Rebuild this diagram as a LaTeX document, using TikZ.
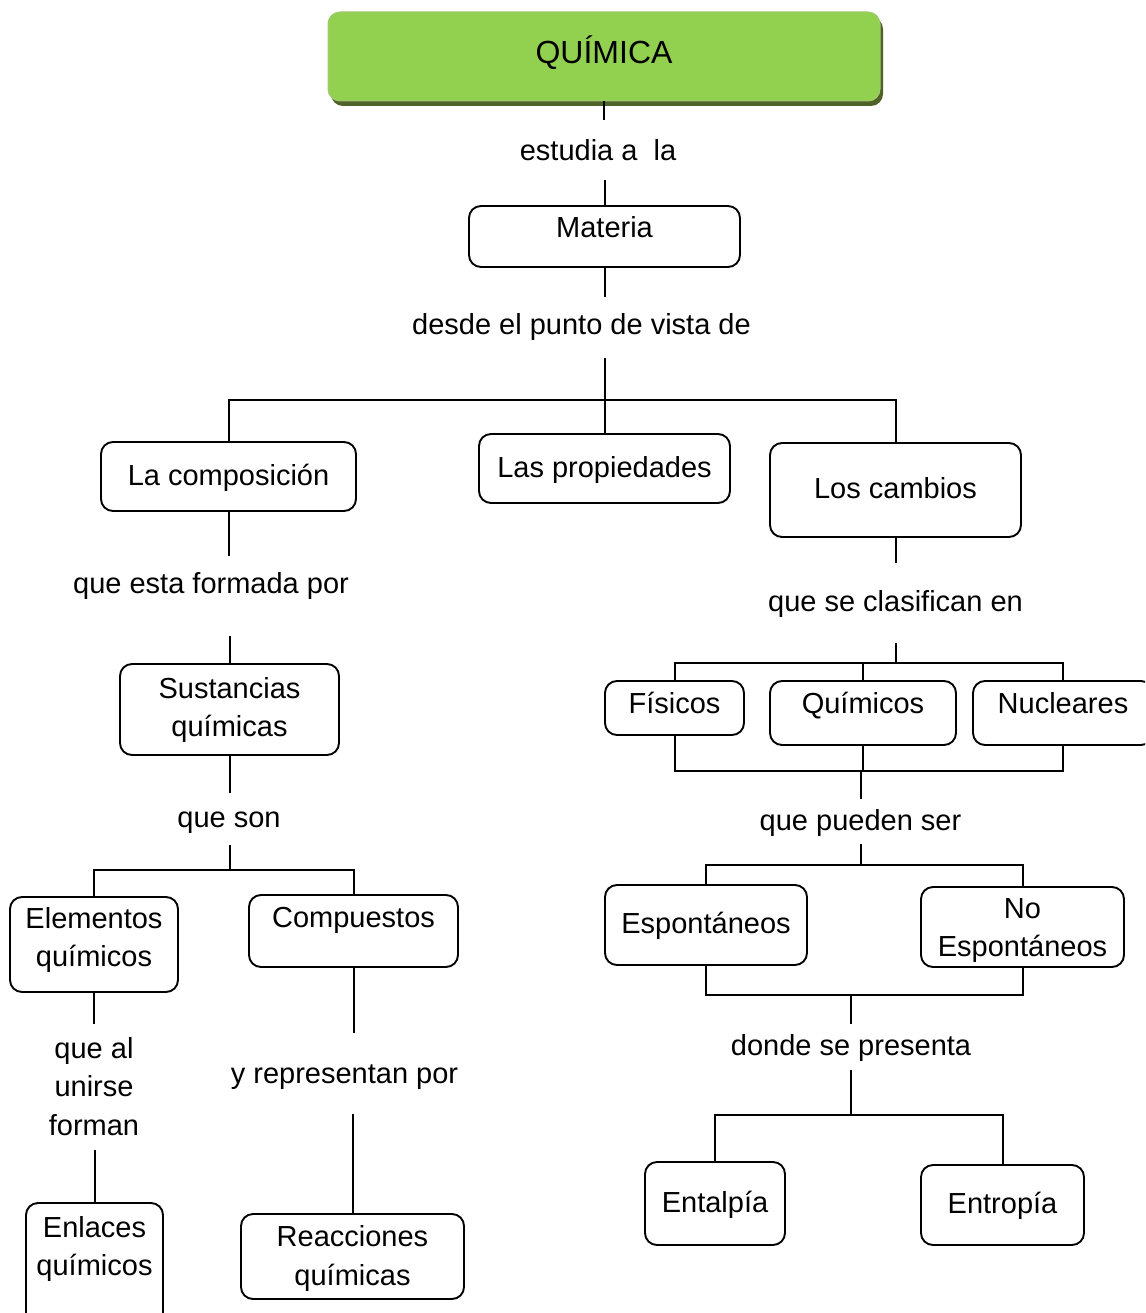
\documentclass[tikz,border=0pt]{standalone}
\usepackage{fontspec}
\setmainfont{Liberation Sans}
\usetikzlibrary{shadows}
\definecolor{titlegreen}{RGB}{146,208,80}
\definecolor{titleedge}{RGB}{164,200,112}
\definecolor{titleshadow}{RGB}{79,98,40}
\newcommand\mapfont{\fontsize{29}{38.5}\selectfont}
\newcommand\twolines[2]{\begin{tabular}[t]{@{}c@{}}#1\\#2\end{tabular}}
\newcommand\threelines[3]{\begin{tabular}[t]{@{}c@{}}#1\\#2\\#3\end{tabular}}
\tikzset{
  concept/.style={draw, line width=1.9pt, rounded corners=12pt, inner xsep=0pt,
    inner ysep=0pt, anchor=base, font=\mapfont},
  linking/.style={inner sep=0pt, anchor=base, font=\mapfont},
  link/.style={line width=2pt},
}
\begin{document}
\renewcommand\arraystretch{1}
\begin{tikzpicture}[x=1pt,y=-1pt]
\clip (0,0) rectangle (1145,1313);
\fill[white] (0,0) rectangle (1145,1313);

% title
\node[rounded corners=12pt, fill=titlegreen, draw=titleedge, line width=1pt,
      drop shadow={shadow xshift=3pt, shadow yshift=-5pt, fill=titleshadow, opacity=1},
      anchor=base, inner sep=0pt, minimum width=552pt, text height=52pt, text depth=37pt,
      font=\fontsize{32}{38}\selectfont] (quimica) at (604,64) {QUÍMICA};

% concept boxes
\node[concept, minimum width=271pt, text height=32pt, text depth=29pt] (materia) at (604.5,238) {Materia};
\node[concept, minimum width=255pt, text height=43pt, text depth=26pt] (comp) at (228.5,485) {La composición};
\node[concept, minimum width=251pt, text height=43pt, text depth=26pt] (prop) at (604.5,477) {Las propiedades};
\node[concept, minimum width=251pt, text height=55pt, text depth=39pt] (camb) at (895.5,498) {Los cambios};
\node[concept, minimum width=219pt, text height=34pt, text depth=57pt] (sust) at (229.5,698) {\twolines{Sustancias}{químicas}};
\node[concept, minimum width=168pt, text height=31pt, text depth=64pt] (elem) at (94,928) {\twolines{Elementos}{químicos}};
\node[concept, minimum width=209pt, text height=32pt, text depth=40pt] (compu) at (353.5,927) {Compuestos};
\node[concept, minimum width=137pt, text height=34pt, text depth=93pt] (enl) at (94.5,1237) {\twolines{Enlaces}{químicos}};
\node[concept, minimum width=223pt, text height=32.5pt, text depth=52.5pt] (reac) at (352.5,1246.5) {\twolines{Reacciones}{químicas}};
\node[concept, minimum width=139pt, text height=32pt, text depth=22pt] (fis) at (674.5,713) {Físicos};
\node[concept, minimum width=186pt, text height=32pt, text depth=32pt] (quim) at (863,713) {Químicos};
\node[concept, minimum width=180pt, text height=32pt, text depth=32pt] (nucl) at (1063,713) {Nucleares};
\node[concept, minimum width=202pt, text height=48pt, text depth=32pt] (esp) at (706,933) {Espontáneos};
\node[concept, minimum width=203pt, text height=31pt, text depth=49pt] (noesp) at (1022.5,918) {\twolines{No}{Espontáneos}};
\node[concept, minimum width=140pt, text height=50pt, text depth=33pt] (ental) at (715,1212) {Entalpía};
\node[concept, minimum width=163pt, text height=48pt, text depth=32pt] (entro) at (1002.5,1213) {Entropía};

% linking phrases (height and depth reach the ends of the lines around them)
\node[linking, text height=41pt, text depth=19pt] (l1) at (598,161) {estudia a\ \ la};
\node[linking, text height=37pt, text depth=24pt] (l2) at (581.5,334) {desde el punto de vista de};
\node[linking, text height=37pt, text depth=43pt] (l3) at (211,593) {que esta formada por};
\node[linking, text height=34pt, text depth=18pt] (l4) at (229,827) {que son};
\node[linking, text height=34pt, text depth=92pt] (l5) at (94,1058) {\threelines{que al}{unirse}{forman}};
\node[linking, text height=50pt, text depth=31pt] (l6) at (344.5,1083) {y representan por};
\node[linking, text height=48pt, text depth=32pt] (l7) at (895.5,611) {que se clasifican en};
\node[linking, text height=31pt, text depth=14pt] (l8) at (860.5,830) {que pueden ser};
\node[linking, text height=31pt, text depth=15pt] (l9) at (851,1055) {donde se presenta};

% heights of the branching bars
\coordinate (b1) at (0,400);
\coordinate (b2) at (0,870);
\coordinate (b3) at (0,663);
\coordinate (b4) at (0,771);
\coordinate (b5) at (0,865);
\coordinate (b6) at (0,995);
\coordinate (b7) at (0,1115);

% left and centre branches
\draw[link] (quimica.south) -- (quimica.south |- l1.north);
\draw[link] (materia.north |- l1.south) -- (materia.north);
\draw[link] (materia.south) -- (materia.south |- l2.north);
\draw[link] (materia.south |- l2.south) -- (materia.south |- b1);
\draw[link] (comp.north) -- (comp.north |- b1) -- (camb.north |- b1) -- (camb.north);
\draw[link] (prop.north) -- (prop.north |- b1);
\draw[link] (comp.south) -- (comp.south |- l3.north);
\draw[link] (sust.north |- l3.south) -- (sust.north);
\draw[link] (sust.south) -- (sust.south |- l4.north);
\draw[link] (sust.south |- l4.south) -- (sust.south |- b2);
\draw[link] (elem.north) -- (elem.north |- b2) -- (compu.north |- b2) -- (compu.north);
\draw[link] (elem.south) -- (elem.south |- l5.north);
\draw[link] (enl.north |- l5.south) -- (enl.north);
\draw[link] (compu.south) -- (compu.south |- l6.north);
\draw[link] (reac.north |- l6.south) -- (reac.north);

% right branch
\draw[link] (camb.south) -- (camb.south |- l7.north);
\draw[link] (camb.south |- l7.south) -- (camb.south |- b3);
\draw[link] (fis.north) -- (fis.north |- b3) -- (nucl.north |- b3) -- (nucl.north);
\draw[link] (quim.north) -- (quim.north |- b3);
\draw[link] (fis.south) -- (fis.south |- b4) -- (nucl.south |- b4) -- (nucl.south);
\draw[link] (quim.south) -- (quim.south |- b4);
\draw[link] (l8.north |- b4) -- (l8.north);
\draw[link] (l8.south) -- (l8.south |- b5);
\draw[link] (esp.north) -- (esp.north |- b5) -- (noesp.north |- b5) -- (noesp.north);
\draw[link] (esp.south) -- (esp.south |- b6) -- (noesp.south |- b6) -- (noesp.south);
\draw[link] (l9.north |- b6) -- (l9.north);
\draw[link] (l9.south) -- (l9.south |- b7);
\draw[link] (ental.north) -- (ental.north |- b7) -- (entro.north |- b7) -- (entro.north);
\end{tikzpicture}
\end{document}
